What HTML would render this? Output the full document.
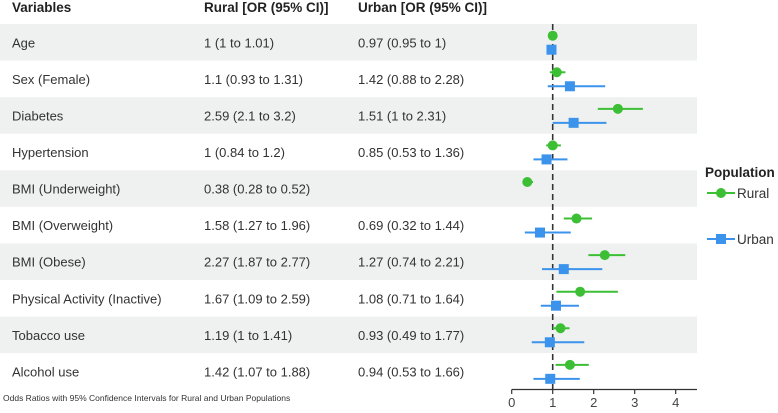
<!DOCTYPE html>
<html><head><meta charset="utf-8"><style>
body{margin:0;background:#fff;}
svg{display:block;font-family:"Liberation Sans",sans-serif;}
</style></head><body>
<svg id="c" width="778" height="413" viewBox="0 0 778 413"></svg>
<script>
const variables=["Age","Sex (Female)","Diabetes","Hypertension","BMI (Underweight)","BMI (Overweight)","BMI (Obese)","Physical Activity (Inactive)","Tobacco use","Alcohol use"];
const ruralOR=[1,1.1,2.59,1,0.38,1.58,2.27,1.67,1.19,1.42];
const ruralLo=[1,0.93,2.1,0.84,0.28,1.27,1.87,1.09,1,1.07];
const ruralHi=[1.01,1.31,3.2,1.2,0.52,1.96,2.77,2.59,1.41,1.88];
const urbanOR=[0.97,1.42,1.51,0.85,null,0.69,1.27,1.08,0.93,0.94];
const urbanLo=[0.95,0.88,1,0.53,null,0.32,0.74,0.71,0.49,0.53];
const urbanHi=[1,2.28,2.31,1.36,null,1.44,2.21,1.64,1.77,1.66];
const ticks=[0,1,2,3,4];

const NS="http://www.w3.org/2000/svg";
const svg=document.getElementById('c');
function mk(t,a,p){const e=document.createElementNS(NS,t);for(const k in a)e.setAttribute(k,a[k]);(p||svg).appendChild(e);return e;}
const x=v=>511.7+v*41;
const rowTop=i=>24+i*36.57;
const RH=36.57;
const G="#3dbf35",B="#3b93ec";
const fmt=(o,l,h)=>o==null?"":`${o} (${l} to ${h})`;

variables.forEach((v,i)=>{if(i%2===0){const r=mk('rect',{x:0,y:rowTop(i),width:697,height:RH,fill:'#eff1f0'});

}});

[["Variables",12],["Rural [OR (95% CI)]",204],["Urban [OR (95% CI)]",358]].forEach(([t,hx])=>{
const e=mk('text',{x:hx,y:12,'font-size':13.5,'font-weight':'bold',fill:'#222'});e.textContent=t;

});

variables.forEach((v,i)=>{const cy=rowTop(i)+RH/2+5;
const a=mk('text',{x:12,y:cy,'font-size':13,fill:'#333'});a.textContent=v;


const b=mk('text',{x:204,y:cy,'font-size':13,fill:'#333'});b.textContent=fmt(ruralOR[i],ruralLo[i],ruralHi[i]);


const c=mk('text',{x:358,y:cy,'font-size':13,fill:'#333'});c.textContent=fmt(urbanOR[i],urbanLo[i],urbanHi[i]);

});

const ref=mk('line',{x1:x(1),x2:x(1),y1:24,y2:389,stroke:'#333','stroke-width':1.6,'stroke-dasharray':'6,4'});



variables.forEach((v,i)=>{
const yr=rowTop(i)+11.7,yu=rowTop(i)+25.7;
const l=mk('line',{x1:x(ruralLo[i]),x2:x(ruralHi[i]),y1:yr,y2:yr,stroke:G,'stroke-width':2});


const p=mk('circle',{cx:x(ruralOR[i]),cy:yr,r:5,fill:G});


if(urbanOR[i]!=null){
const l2=mk('line',{x1:x(urbanLo[i]),x2:x(urbanHi[i]),y1:yu,y2:yu,stroke:B,'stroke-width':2});


const s=mk('rect',{x:x(urbanOR[i])-5,y:yu-5,width:10,height:10,fill:B});

}
});

const ax=mk('line',{x1:x(0),x2:697,y1:389.5,y2:389.5,stroke:'#333','stroke-width':1.2});


ticks.forEach(t=>{const tk=mk('line',{x1:x(t),x2:x(t),y1:389.5,y2:394,stroke:'#333','stroke-width':1.2});


const tl=mk('text',{x:x(t),y:407,'font-size':13,fill:'#444','text-anchor':'middle'});tl.textContent=t;

});

const cap=mk('text',{x:3,y:401,'font-size':8.5,fill:'#333'});cap.textContent="Odds Ratios with 95% Confidence Intervals for Rural and Urban Populations";



const lt=mk('text',{x:705,y:177,'font-size':13.5,'font-weight':'bold',fill:'#222'});lt.textContent="Population";


const g1=mk('g',{});


mk('line',{x1:707,x2:735,y1:193,y2:193,stroke:G,'stroke-width':2},g1);
mk('circle',{cx:721,cy:193,r:5,fill:G},g1);
const t1=mk('text',{x:737,y:198,'font-size':13.5,fill:'#333'},g1);t1.textContent="Rural";
const g2=mk('g',{});


mk('line',{x1:707,x2:735,y1:239,y2:239,stroke:B,'stroke-width':2},g2);
mk('rect',{x:716,y:234,width:10,height:10,fill:B},g2);
const t2=mk('text',{x:737,y:244,'font-size':13.5,fill:'#333'},g2);t2.textContent="Urban";
</script>
</body></html>
